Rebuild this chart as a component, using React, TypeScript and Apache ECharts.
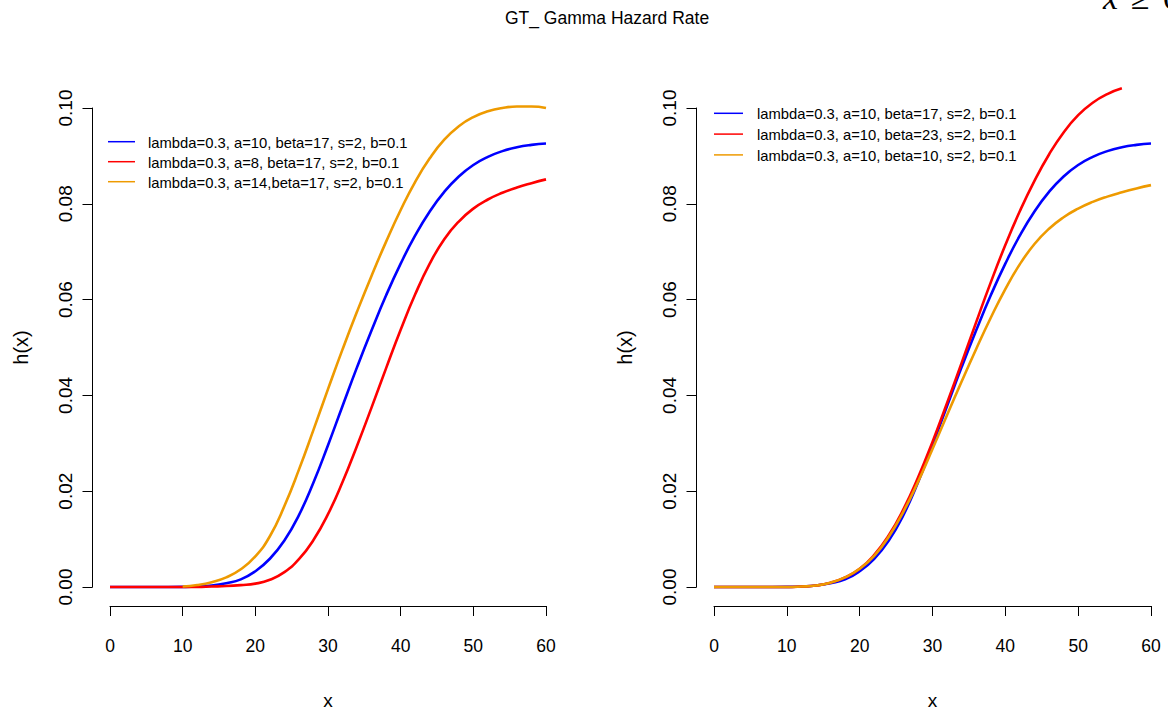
import React, { useEffect, useRef } from "react";
import * as echarts from "echarts";

// x grid shared by all curves
const xValues = [0, 2, 4, 6, 8, 10, 12, 14, 16, 18, 20, 22, 24, 26, 28, 30, 32, 34, 36, 38, 40, 42, 44, 46, 48, 50, 52, 54, 56, 58, 60];

// Left panel: lambda=0.3, beta=17, s=2, b=0.1, varying a
const hA10B17 = [0, 0, 0, 0, 0, 0.00002, 0.0001, 0.0003, 0.0008, 0.0016, 0.0033, 0.0059, 0.0097, 0.015, 0.0218, 0.0296, 0.0378, 0.0459, 0.0536, 0.0609, 0.0675, 0.0734, 0.0784, 0.0825, 0.0857, 0.0881, 0.0898, 0.091, 0.0918, 0.0923, 0.0926];
const hA8B17 = [0, 0, 0, 0, 0, 0, 0, 0.0001, 0.0002, 0.0004, 0.0007, 0.0015, 0.0031, 0.0058, 0.0098, 0.0152, 0.0219, 0.0295, 0.0375, 0.0457, 0.0537, 0.0611, 0.0675, 0.0726, 0.0763, 0.079, 0.0809, 0.0823, 0.0834, 0.0843, 0.0851];
// starts at x = 10
const hA14B17 = [0.0001, 0.0004, 0.001, 0.002, 0.0037, 0.0064, 0.0106, 0.0169, 0.0245, 0.0328, 0.0413, 0.0496, 0.0575, 0.065, 0.0721, 0.0787, 0.0846, 0.0895, 0.0934, 0.0962, 0.0981, 0.0993, 0.1, 0.1003, 0.1003, 0.1];

// Right panel: lambda=0.3, a=10, s=2, b=0.1, varying beta
// visible until x = 56 (clipped at the top of the plot region)
const hA10B23 = [0, 0, 0, 0, 0, 0, 0.0001, 0.0003, 0.0009, 0.002, 0.0038, 0.0067, 0.0108, 0.0162, 0.0228, 0.0303, 0.0384, 0.0468, 0.0553, 0.0636, 0.0714, 0.0785, 0.0848, 0.0903, 0.0949, 0.0985, 0.1011, 0.1029, 0.1041];
const hA10B10 = [0, 0, 0, 0, 0, 0, 0.0001, 0.0003, 0.0009, 0.002, 0.0038, 0.0065, 0.0105, 0.0157, 0.0219, 0.0288, 0.0359, 0.0429, 0.0497, 0.0562, 0.0622, 0.0674, 0.0716, 0.0748, 0.0772, 0.079, 0.0804, 0.0815, 0.0824, 0.0832, 0.0839];

const leftNames = [
  "lambda=0.3, a=10, beta=17, s=2, b=0.1",
  "lambda=0.3, a=8, beta=17, s=2, b=0.1",
  "lambda=0.3, a=14,beta=17, s=2, b=0.1",
];
const rightNames = [
  "lambda=0.3, a=10, beta=17, s=2, b=0.1",
  "lambda=0.3, a=10, beta=23, s=2, b=0.1",
  "lambda=0.3, a=10, beta=10, s=2, b=0.1",
];
const colors = ["#0000FF", "#FF0000", "#EE9A00"];

const titleText = "GT_ Gamma Hazard Rate";
const xName = "x";
const yName = "h(x)";
const xMin = 0, xMax = 60, xStep = 10;
const yMin = 0, yMax = 0.1, yStep = 0.02;

const FONT = '"Liberation Sans", Arial, Helvetica, sans-serif';

function pairs(xs: number[], ys: number[], start = 0) {
  return ys.map((y, i) => [xs[i + start], y]);
}

export default function App() {
  const ref = useRef<HTMLDivElement>(null);
  useEffect(() => {
    if (!ref.current) return;
    const chart = echarts.init(ref.current, undefined, { renderer: "svg" });

    const xAxisBase = (gridIndex: number) => ({
      gridIndex,
      type: "value",
      min: xMin,
      max: xMax,
      interval: xStep,
      offset: 19,
      name: xName,
      nameLocation: "middle",
      nameGap: 85,
      nameTextStyle: { fontSize: 19, color: "#000", fontFamily: FONT },
      axisLine: { show: true, onZero: false, lineStyle: { color: "#000", width: 1 } },
      axisTick: { show: true, length: 10, lineStyle: { color: "#000", width: 1 } },
      axisLabel: { margin: 31, fontSize: 17.5, color: "#000", fontFamily: FONT },
      splitLine: { show: false },
    });
    const yAxisBase = (gridIndex: number) => ({
      gridIndex,
      type: "value",
      min: yMin,
      max: yMax,
      interval: yStep,
      offset: 17.5,
      name: yName,
      nameLocation: "middle",
      nameRotate: 90,
      nameGap: 62,
      nameTextStyle: { fontSize: 20, color: "#000", fontFamily: FONT },
      axisLine: { show: true, onZero: false, lineStyle: { color: "#000", width: 1 } },
      axisTick: { show: true, length: 10, lineStyle: { color: "#000", width: 1 } },
      axisLabel: {
        margin: 18,
        rotate: 90,
        fontSize: 19,
        color: "#000",
        fontFamily: FONT,
        formatter: (v: number) => v.toFixed(2),
      },
      splitLine: { show: false },
    });

    const lineSeries = (name: string, data: number[][], color: string, idx: number) => ({
      name,
      type: "line",
      xAxisIndex: idx,
      yAxisIndex: idx,
      data,
      showSymbol: false,
      smooth: 0.5,
      clip: false,
      lineStyle: { color, width: 2.6 },
      itemStyle: { color },
    });

    const legendGraphics = (names: string[], lx: number, ly: number, gap: number, len: number, tx: number) => {
      const els: any[] = [];
      names.forEach((n, i) => {
        const y = ly + gap * i;
        els.push({
          type: "line",
          shape: { x1: lx, y1: y, x2: lx + len, y2: y },
          style: { stroke: colors[i], lineWidth: 1.5 },
        });
        els.push({
          type: "text",
          x: tx,
          y: y + 1,
          style: {
            text: n,
            fill: "#000",
            font: `14.8px ${FONT}`,
            verticalAlign: "middle",
            align: "left",
          },
        });
      });
      return els;
    };

    chart.setOption({
      animation: false,
      backgroundColor: "#fff",
      grid: [
        { left: 110, top: 108, width: 436, height: 479, outerBoundsMode: "none", containLabel: false },
        { left: 714, top: 108, width: 437, height: 479, outerBoundsMode: "none", containLabel: false },
      ],
      xAxis: [xAxisBase(0), xAxisBase(1)],
      yAxis: [yAxisBase(0), yAxisBase(1)],
      series: [
        lineSeries(leftNames[0], pairs(xValues, hA10B17), colors[0], 0),
        lineSeries(leftNames[1], pairs(xValues, hA8B17), colors[1], 0),
        lineSeries(leftNames[2], pairs(xValues, hA14B17, 5), colors[2], 0),
        lineSeries(rightNames[0], pairs(xValues, hA10B17), colors[0], 1),
        lineSeries(rightNames[1], pairs(xValues, hA10B23), colors[1], 1),
        lineSeries(rightNames[2], pairs(xValues, hA10B10), colors[2], 1),
      ],
      graphic: [
        {
          type: "text",
          x: 607,
          y: 18,
          style: {
            text: titleText,
            fill: "#000",
            font: `17.5px ${FONT}`,
            align: "center",
            verticalAlign: "middle",
          },
        },
        {
          type: "text",
          x: 1103,
          y: -2.5,
          style: { text: "x", fill: "#000", font: 'italic 34px "Liberation Serif", serif', verticalAlign: "middle" },
        },
        {
          type: "text",
          x: 1131,
          y: -2.5,
          style: { text: "≥", fill: "#000", font: '34px "Liberation Serif", "DejaVu Serif", serif', verticalAlign: "middle" },
        },
        {
          type: "text",
          x: 1163,
          y: -2.5,
          style: { text: "0", fill: "#000", font: '34px "Liberation Serif", serif', verticalAlign: "middle" },
        },
        ...legendGraphics(leftNames, 108, 141.7, 20, 27, 148),
        ...legendGraphics(rightNames, 714, 113.3, 20.8, 29, 757),
      ],
    });
    return () => chart.dispose();
  }, []);
  return (
    <div
      ref={ref}
      style={{ position: "absolute", left: 0, top: 0, width: 1168, height: 711, background: "#fff" }}
    />
  );
}
